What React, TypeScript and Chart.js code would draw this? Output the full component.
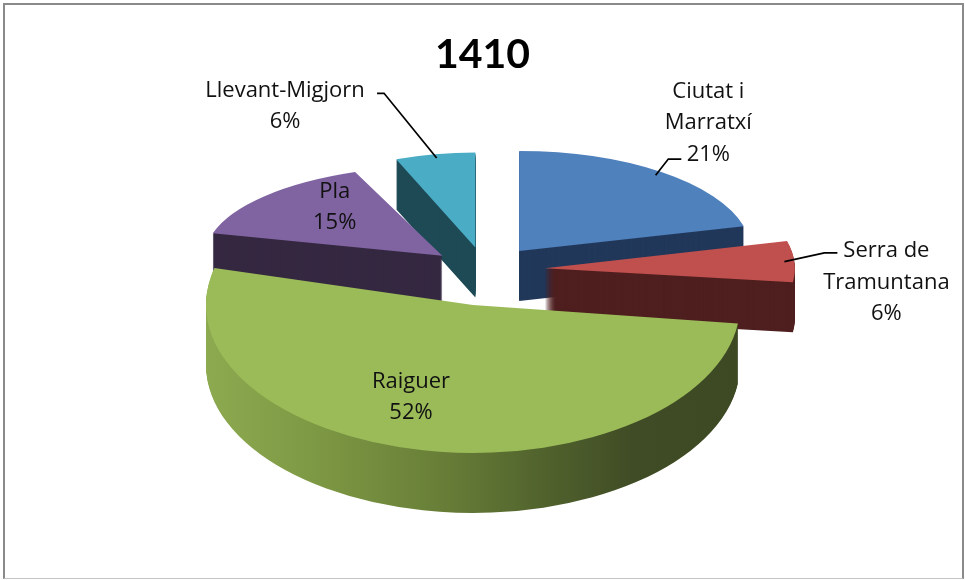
import React, { useEffect, useRef } from "react";
import { Chart, registerables } from "chart.js";

Chart.register(...registerables);

// ---------------- data ----------------
const TITLE = "1410";
const CATEGORIES = ["Ciutat i Marratxí", "Serra de Tramuntana", "Raiguer", "Pla", "Llevant-Migjorn"];
const LABEL_LINES = [["Ciutat i", "Marratxí"], ["Serra de", "Tramuntana"], ["Raiguer"], ["Pla"], ["Llevant-Migjorn"]];
const VALUES = [21, 6, 52, 15, 6];

// ---------------- styles ----------------
const TOP_COLORS = ["#4F81BD", "#C0504D", "#9BBB59", "#8064A2", "#4BACC6"];
const SIDE_COLORS = ["#21385A", "#4F1F1F", "GRADIENT", "#352841", "#1E4A55"];
const RAIGUER_SIDE_STOPS: [number, string][] = [
  [0, "#8DAA50"],
  [0.2, "#7E9944"],
  [0.45, "#677D37"],
  [0.65, "#4F602C"],
  [0.8, "#404C25"],
  [1, "#3D4923"],
];
const TITLE_FONT = "Lato, 'Open Sans', sans-serif";
const LABEL_FONT = "'Open Sans', Lato, sans-serif";

// 3D projection layout (per slice ellipse radii + extrusion depth)
const PROJ = [
  { rx: 232, ry: 100, depth: 50 },
  { rx: 250, ry: 110, depth: 50 },
  { rx: 267, ry: 148, depth: 60 },
  { rx: 237, ry: 90, depth: 51 },
  { rx: 215, ry: 95, depth: 50 },
];
const CENTER = { x: 485, y: 270 };
const EXPLODE = 0.24;

// label layout relative to the slice's projected bisector point
const LABEL_LAYOUT = [
  { f: 1, dx: 47, dy: -49, leader: { ex: -27, ey: 36, elbow: -13 } },
  { f: 1, dx: 92, dy: 21, leader: { ex: -49, ey: -29.5, elbow: -13 } },
  { f: 0.6, dx: -32, dy: 5, leader: null },
  { f: 0.6, dx: -1, dy: -13, leader: null },
  { f: 1, dx: -150, dy: -48, leader: { ex: 92, ey: -13, elbow: 7 } },
];
const LINE_H = 31.5;

function geom(arc: any, i: number) {
  const mid = (arc.startAngle + arc.endAngle) / 2;
  const p = PROJ[i];
  return {
    mid,
    rx: p.rx,
    ry: p.ry,
    depth: p.depth,
    R: arc.outerRadius,
    cx: arc.x,
    cy: arc.y,
    ax: CENTER.x + Math.cos(mid) * EXPLODE * p.rx,
    ay: CENTER.y + Math.sin(mid) * EXPLODE * p.ry,
  };
}

function applyT(ctx: CanvasRenderingContext2D, g: any, k: number) {
  ctx.translate(g.ax, g.ay + k);
  ctx.scale(g.rx / g.R, g.ry / g.R);
  ctx.translate(-g.cx, -g.cy);
}

const pie3d = {
  id: "pie3d",
  beforeDatasetsDraw(chart: any) {
    const ctx: CanvasRenderingContext2D = chart.ctx;
    const arcs = chart.getDatasetMeta(0).data;
    const geos = arcs.map((a: any, i: number) => geom(a, i));
    const order = arcs.map((_: any, i: number) => i).sort((a: number, b: number) => geos[a].ay - geos[b].ay);
    for (const i of order) {
      const arc = arcs[i];
      const g = geos[i];
      const orig = arc.options;
      let side: any = SIDE_COLORS[i];
      if (side === "GRADIENT") {
        const grad = ctx.createLinearGradient(g.cx - g.R, 0, g.cx + g.R, 0);
        RAIGUER_SIDE_STOPS.forEach(([o, c]) => grad.addColorStop(o, c));
        side = grad;
      }
      arc.options = { ...orig, backgroundColor: side, borderWidth: 0 };
      for (let k = g.depth; k >= 1; k--) {
        ctx.save();
        applyT(ctx, g, k);
        arc.draw(ctx);
        ctx.restore();
      }
      arc.options = orig;
      ctx.save();
      applyT(ctx, g, 0);
      arc.draw(ctx);
      ctx.restore();
    }
    return false;
  },
  afterDraw(chart: any) {
    const ctx: CanvasRenderingContext2D = chart.ctx;
    const arcs = chart.getDatasetMeta(0).data;
    const total = VALUES.reduce((s, v) => s + v, 0);
    arcs.forEach((arc: any, i: number) => {
      const g = geom(arc, i);
      const L = LABEL_LAYOUT[i];
      const bx = g.ax + Math.cos(g.mid) * g.rx * L.f;
      const by = g.ay + Math.sin(g.mid) * g.ry * L.f;
      const lx = bx + L.dx;
      const ly = by + L.dy;
      const lines = [...LABEL_LINES[i], Math.round((VALUES[i] / total) * 100) + "%"];
      ctx.save();
      ctx.fillStyle = "#111";
      ctx.font = `22px ${LABEL_FONT}`;
      ctx.textAlign = "center";
      ctx.textBaseline = "middle";
      lines.forEach((t, j) => {
        ctx.fillText(t, lx, ly + (j - (lines.length - 1) / 2) * LINE_H);
      });
      if (L.leader) {
        const sx = g.ax + Math.cos(g.mid) * g.rx * 0.96;
        const sy = g.ay + Math.sin(g.mid) * g.ry * 0.96;
        const ex = lx + L.leader.ex;
        const ey = ly + L.leader.ey;
        ctx.strokeStyle = "#000";
        ctx.lineWidth = 1.75;
        ctx.beginPath();
        ctx.moveTo(sx, sy);
        ctx.lineTo(ex + L.leader.elbow, ey);
        ctx.lineTo(ex, ey);
        ctx.stroke();
      }
      ctx.restore();
    });
  },
};

export default function App() {
  const ref = useRef<HTMLCanvasElement>(null);
  useEffect(() => {
    if (!ref.current) return;
    const chart = new Chart(ref.current, {
      type: "pie",
      data: {
        labels: CATEGORIES,
        datasets: [
          {
            data: VALUES,
            backgroundColor: TOP_COLORS,
            borderWidth: 0,
          },
        ],
      },
      options: {
        responsive: false,
        maintainAspectRatio: false,
        animation: false,
        events: [],
        layout: { padding: 0 },
        plugins: {
          legend: { display: false },
          tooltip: { enabled: false },
          title: {
            display: true,
            text: TITLE,
            color: "#000",
            font: { family: TITLE_FONT, size: 41, weight: "bold" },
            padding: { top: 30, bottom: 10 },
          },
        },
      },
      plugins: [pie3d],
    });
    return () => chart.destroy();
  }, []);
  return (
    <div style={{ position: "absolute", left: 0, top: 0, width: 965, height: 580, background: "#fff" }}>
      <canvas ref={ref} width={965} height={580} style={{ position: "absolute", left: 0, top: 0 }} />
      <div
        style={{
          position: "absolute",
          left: 3,
          top: 3,
          width: 961,
          height: 576,
          boxSizing: "border-box",
          borderLeft: "2px solid #8a8a8a",
          borderTop: "2px solid #8a8a8a",
          borderRight: "2px solid #8a8a8a",
          borderBottom: "1px solid #c4c4c4",
          pointerEvents: "none",
        }}
      />
    </div>
  );
}
